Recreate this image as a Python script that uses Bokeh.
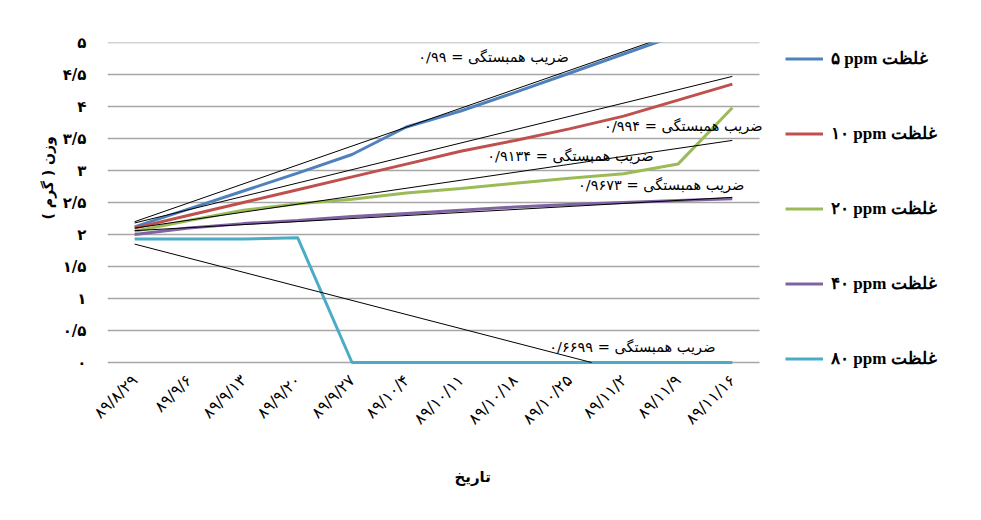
from math import pi
from bokeh.plotting import figure
from bokeh.models import Range1d, FixedTicker, Legend, LegendItem, Label, Title
from bokeh.embed import file_html
from bokeh.resources import INLINE

# ---------------- data ----------------
dates = ["۸۹/۸/۲۹", "۸۹/۹/۶", "۸۹/۹/۱۳", "۸۹/۹/۲۰", "۸۹/۹/۲۷", "۸۹/۱۰/۴",
         "۸۹/۱۰/۱۱", "۸۹/۱۰/۱۸", "۸۹/۱۰/۲۵", "۸۹/۱۱/۲", "۸۹/۱۱/۹", "۸۹/۱۱/۱۶"]

ppm_5 = [2.12, 2.40, 2.68, 2.96, 3.25, 3.68, 3.93, 4.22, 4.52, 4.82, 5.12, 5.40]
ppm_10 = [2.10, 2.30, 2.50, 2.70, 2.90, 3.10, 3.30, 3.47, 3.65, 3.85, 4.10, 4.35]
ppm_20 = [2.05, 2.22, 2.38, 2.48, 2.55, 2.65, 2.72, 2.80, 2.88, 2.95, 3.10, 3.98]
ppm_40 = [2.00, 2.10, 2.17, 2.22, 2.28, 2.33, 2.38, 2.43, 2.47, 2.50, 2.53, 2.56]
ppm_80 = [1.93, 1.93, 1.93, 1.95, 0.00, 0.00, 0.00, 0.00, 0.00, 0.00, 0.00, 0.00]

series_values = [ppm_5, ppm_10, ppm_20, ppm_40, ppm_80]
series_names = ["۵ ppm غلظت", "۱۰ ppm غلظت", "۲۰ ppm غلظت", "۴۰ ppm غلظت", "۸۰ ppm غلظت"]
series_colors = ["#4F81BD", "#C0504D", "#9BBB59", "#8064A2", "#4BACC6"]

# linear trend lines: value at first and last date
trend_first = [2.20, 2.18, 2.10, 2.06, 1.85]
trend_last = [5.45, 4.47, 3.47, 2.58, -0.57]

r2_values = ["۰/۹۹", "۰/۹۹۴", "۰/۹۱۳۴", "۰/۹۶۷۳", "۰/۶۶۹۹"]
r2_prefix = "ضریب همبستگی"

y_ticks = [0.0, 0.5, 1.0, 1.5, 2.0, 2.5, 3.0, 3.5, 4.0, 4.5, 5.0]
y_tick_labels = ["۰", "۰/۵", "۱", "۱/۵", "۲", "۲/۵", "۳", "۳/۵", "۴", "۴/۵", "۵"]

x_title = "تاریخ"
y_title = "وزن ( گرم )"

# ---------------- layout ----------------
W, H = 973, 512
LEFT, TOP, RIGHT, BOTTOM = 107, 42, 8, 142
frame_w = W - LEFT - RIGHT
cat_px = 652 / len(dates)                   # pixel width of one date slot
x_start = -0.5
x_end = x_start + frame_w / cat_px           # frame extends over the legend area
x_idx = list(range(len(dates)))
x_last_slot = len(dates) - 0.5
y_min, y_max = -0.125, 5                     # small room under 0 for the legend

p = figure(width=W, height=H, output_backend="svg", toolbar_location=None,
           x_range=Range1d(x_start, x_end), y_range=Range1d(y_min, y_max),
           min_border_left=LEFT, min_border_right=RIGHT, min_border_top=TOP,
           min_border_bottom=BOTTOM)
p.outline_line_color = None
p.background_fill_color = "white"
p.border_fill_color = "white"

# axes
p.xaxis.ticker = FixedTicker(ticks=x_idx)
p.xaxis.major_label_overrides = {i: d for i, d in zip(x_idx, dates)}
p.xaxis.major_label_orientation = pi / 4
p.xaxis.major_label_text_font = "DejaVu Sans"
p.xaxis.major_label_text_font_size = "16px"
p.xaxis.major_label_text_color = "black"
p.xaxis.major_label_standoff = 1
p.yaxis.ticker = FixedTicker(ticks=y_ticks)
p.yaxis.major_label_overrides = {t: l for t, l in zip(y_ticks, y_tick_labels)}
p.yaxis.major_label_text_font = "DejaVu Sans"
p.yaxis.major_label_text_font_style = "bold"
p.yaxis.major_label_text_font_size = "15px"
p.yaxis.major_label_text_color = "black"
p.yaxis.major_label_standoff = 15
for ax in (p.xaxis, p.yaxis):
    ax.axis_line_color = None
    ax.major_tick_line_color = None
    ax.minor_tick_line_color = None
    ax.axis_label_standoff = 0

# horizontal grid lines only across the date slots
p.xgrid.grid_line_color = None
p.ygrid.grid_line_color = None
p.segment(x0=[x_start] * len(y_ticks), x1=[x_last_slot] * len(y_ticks),
          y0=y_ticks, y1=y_ticks, line_color="#a6a6a6", line_width=1.5)

# series lines
items = []
for vals, name, col in zip(series_values, series_names, series_colors):
    r = p.line(x_idx, vals, line_color=col, line_width=3)
    items.append(LegendItem(label=name, renderers=[r]))

# trend lines (a trend that falls below the axis stops at 0, as in the chart)
x_first, x_last = x_idx[0], x_idx[-1]
for a, b in zip(trend_first, trend_last):
    if b < 0:
        x_zero = x_first + (0 - a) / (b - a) * (x_last - x_first)
        p.line([x_first, x_zero], [a, 0], line_color="black", line_width=1)
    else:
        p.line([x_first, x_last], [a, b], line_color="black", line_width=1)

# R^2 annotations
ann_pos = [(5.22, 4.78), (8.64, 3.70), (6.49, 3.23), (8.16, 2.77), (7.63, 0.25)]
for (ax_, ay_), v in zip(ann_pos, r2_values):
    p.add_layout(Label(x=ax_, y=ay_, text=f"{v} = {r2_prefix}",
                       text_font="DejaVu Sans", text_font_size="14.5px",
                       text_color="black", text_align="left",
                       text_baseline="middle"))

# axis titles
p.add_layout(Title(text=x_title, align="left", offset=347, standoff=54,
                   text_font="DejaVu Sans", text_font_style="bold",
                   text_font_size="15px", text_color="black"), "below")
p.add_layout(Title(text=y_title, align="left", offset=151, standoff=7,
                   text_font="DejaVu Sans", text_font_style="bold",
                   text_font_size="14px", text_color="black"), "left")

# legend at the right of the date slots
legend = Legend(items=items, location=(678, 1), orientation="vertical",
                glyph_width=38, glyph_height=21, label_height=21,
                spacing=54, label_standoff=8, padding=0, margin=0,
                border_line_color=None, background_fill_alpha=0,
                label_text_font="Liberation Serif", label_text_font_style="bold",
                label_text_font_size="17px", label_text_color="black")
p.add_layout(legend)

open("out.html", "w").write(file_html(p, INLINE))
